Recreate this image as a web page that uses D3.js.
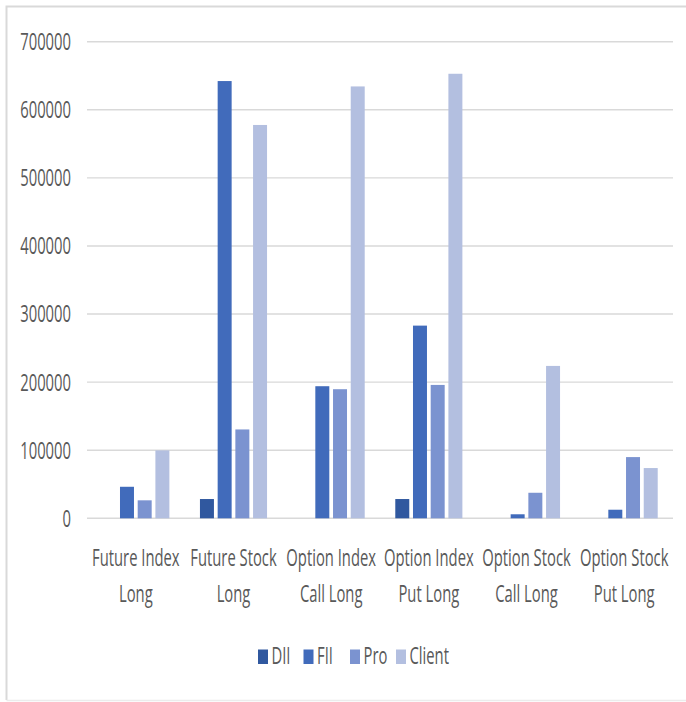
<!DOCTYPE html>
<html>
<head>
<meta charset="utf-8">
<script src="https://cdn.jsdelivr.net/npm/d3@7/dist/d3.min.js"></script>
<style>
  html, body { margin: 0; padding: 0; background: #fff; }
  svg { display: block; }
</style>
</head>
<body>
<svg id="chart" width="686" height="702"></svg>
<script>
// ---- Data ----
const categories = ["Future Index Long", "Future Stock Long", "Option Index Call Long",
                    "Option Index Put Long", "Option Stock Call Long", "Option Stock Put Long"];
const categoryLines = [["Future Index", "Long"], ["Future Stock", "Long"], ["Option Index", "Call Long"],
                       ["Option Index", "Put Long"], ["Option Stock", "Call Long"], ["Option Stock", "Put Long"]];
const seriesNames = ["DII", "FII", "Pro", "Client"];
const dii    = [0, 28300, 0, 28300, 0, 0];
const fii    = [46300, 642200, 194000, 283000, 5900, 12600];
const pro    = [26400, 130500, 189600, 195900, 37500, 89900];
const client = [99700, 577700, 634300, 652900, 223800, 73800];
const yTicks = [0, 100000, 200000, 300000, 400000, 500000, 600000, 700000];

// ---- Styling ----
const colors = { DII: "#30589f", FII: "#416bbb", Pro: "#7b93d0", Client: "#b3bfe0" };
const textColor = "#595959";
const gridColor = "#d9d9d9";
const fontFamily = "'Open Sans', 'Noto Sans', sans-serif";
const fontSize = 23.5;
const squeeze = 0.63;

const svg = d3.select("#chart");

// chart border (top + left stronger, bottom faint)
svg.append("path")
  .attr("d", "M6.5,700 L6.5,6.5 L686,6.5")
  .attr("fill", "none").attr("stroke", gridColor).attr("stroke-width", 2);
svg.append("line")
  .attr("x1", 6.5).attr("x2", 686).attr("y1", 700.5).attr("y2", 700.5)
  .attr("stroke", "#ececec").attr("stroke-width", 1.5);

const plotLeft = 87, plotRight = 673, plotTop = 41.7, plotBottom = 518.3;

const y = d3.scaleLinear().domain([0, 700000]).range([plotBottom, plotTop]);
const x0 = d3.scaleBand().domain(categories).range([plotLeft, plotRight])
  .paddingInner(0.313).paddingOuter(0.1565);
const x1 = d3.scaleBand().domain(seriesNames).range([0, x0.bandwidth()]).paddingInner(0.21);

const valuesBySeries = { DII: dii, FII: fii, Pro: pro, Client: client };

function squeezedText(sel, x, yy, txt, anchor) {
  return sel.append("text")
    .attr("transform", `translate(${x},${yy}) scale(${squeeze},1)`)
    .attr("text-anchor", anchor)
    .attr("fill", textColor)
    .style("font-family", fontFamily)
    .style("font-size", fontSize + "px")
    .text(txt);
}

// gridlines
const grid = svg.append("g");
grid.selectAll("line").data(yTicks).join("line")
  .attr("x1", plotLeft).attr("x2", plotRight)
  .attr("y1", d => y(d)).attr("y2", d => y(d))
  .attr("stroke", gridColor).attr("stroke-width", 1.4);

// y axis labels
const yAxisG = svg.append("g");
yTicks.forEach(t => {
  squeezedText(yAxisG, 71, y(t) + 8.4, d3.format("d")(t), "end");
});

// bars
const groups = svg.append("g").selectAll("g").data(categories).join("g")
  .attr("transform", d => `translate(${x0(d)},0)`);
groups.selectAll("rect")
  .data((d, i) => seriesNames.map(s => ({ s, v: valuesBySeries[s][i] })))
  .join("rect")
  .attr("x", d => x1(d.s))
  .attr("width", x1.bandwidth())
  .attr("y", d => y(d.v))
  .attr("height", d => y(0) - y(d.v))
  .attr("fill", d => colors[d.s]);

// category labels
const xLab = svg.append("g");
categories.forEach((c, i) => {
  const cx = x0(c) + x0.bandwidth() / 2;
  categoryLines[i].forEach((line, j) => {
    squeezedText(xLab, cx, 565.7 + j * 36, line, "middle");
  });
});

// legend
const legendX = [258, 303.5, 350, 396];
const legend = svg.append("g");
seriesNames.forEach((s, i) => {
  legend.append("rect")
    .attr("x", legendX[i]).attr("y", 649.5)
    .attr("width", 10).attr("height", 14.5)
    .attr("fill", colors[s]);
  squeezedText(legend, legendX[i] + 13.5, 663.5, s, "start");
});
</script>
</body>
</html>
